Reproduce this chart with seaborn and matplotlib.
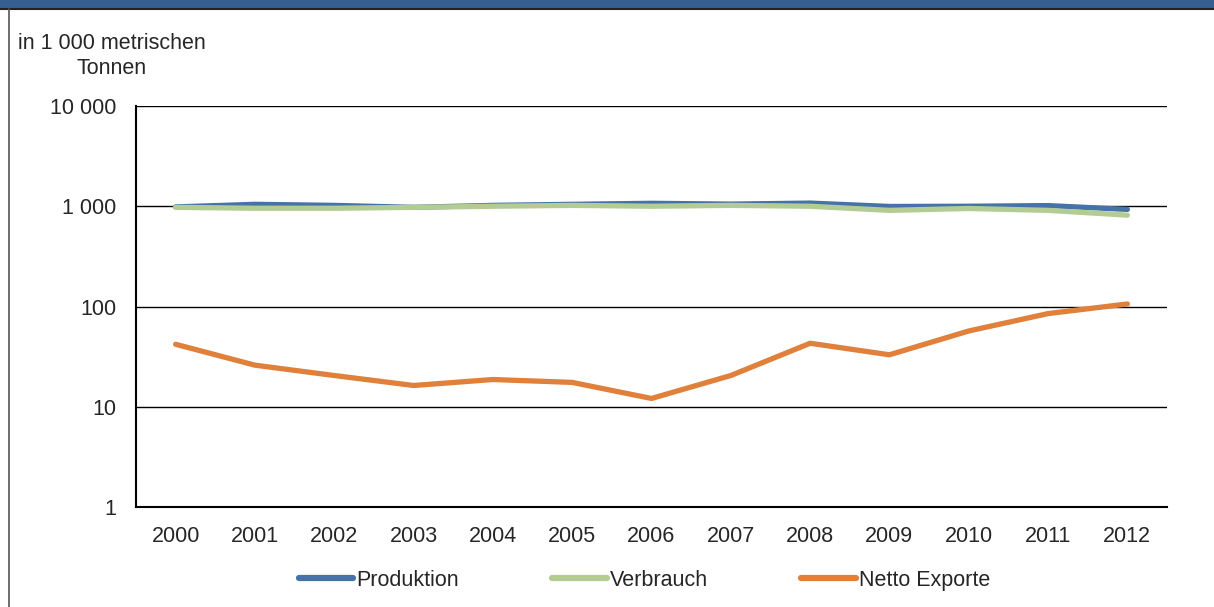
import numpy as np
import pandas as pd
import matplotlib
matplotlib.use("Agg")
import matplotlib.pyplot as plt
import seaborn as sns
from matplotlib.ticker import FuncFormatter, FixedLocator

# data (1 000 metric tonnes)
years = ["2000", "2001", "2002", "2003", "2004", "2005", "2006",
         "2007", "2008", "2009", "2010", "2011", "2012"]
produktion = [985, 1045, 1020, 975, 1020, 1045, 1070, 1050, 1075, 995, 1000, 1015, 930]
verbrauch = [975, 955, 955, 975, 1000, 1020, 1000, 1020, 1000, 910, 950, 910, 815]
netto_exporte = [42, 26, 20.5, 16.3, 18.7, 17.5, 12.1, 20.5, 43, 33, 57, 85, 106]

series_names = ["Produktion", "Verbrauch", "Netto Exporte"]
colors = ["#4572a7", "#b3cc93", "#e0803a"]

df = pd.DataFrame({
    "pos": list(range(len(years))) * 3,
    "value": produktion + verbrauch + netto_exporte,
    "series": np.repeat(series_names, len(years)),
})

sns.set_style("white")
plt.rcParams["font.family"] = ["Liberation Sans", "DejaVu Sans"]
fs = 15.5
plt.rcParams["font.size"] = fs

fig = plt.figure(figsize=(12.14, 6.07), dpi=100)
ax = fig.add_axes([0.112, 0.1647, 0.8493, 0.6607])

sns.lineplot(data=df, x="pos", y="value", hue="series", hue_order=series_names,
             palette=colors, linewidth=3.8, ax=ax, legend=True,
             solid_capstyle="round")

ax.set_yscale("log")
ax.set_ylim(1, 10000)
ax.set_xlim(-0.5, len(years) - 0.5)
ax.yaxis.set_major_locator(FixedLocator([1, 10, 100, 1000, 10000]))
ax.yaxis.set_minor_locator(FixedLocator([]))
ax.yaxis.set_major_formatter(FuncFormatter(lambda v, p: f"{int(v):,}".replace(",", " ")))
ax.grid(axis="y", color="black", linewidth=1)
ax.set_axisbelow(True)

# category labels at centres, ticks at boundaries
ax.set_xticks(np.arange(-0.5, len(years), 1.0))
ax.set_xticklabels([])
ax.set_xticks(np.arange(len(years)), minor=True)
ax.set_xticklabels(years, minor=True)
ax.tick_params(axis="x", which="major", direction="out", length=6, width=1.5, color="black")
ax.tick_params(axis="x", which="minor", length=0, pad=14, labelsize=fs)
ax.tick_params(axis="y", direction="out", length=6, width=1, color="black", labelsize=fs, pad=8)

for side in ["top", "right"]:
    ax.spines[side].set_visible(False)
for side in ["left", "bottom"]:
    ax.spines[side].set_color("black")
    ax.spines[side].set_linewidth(1.5)

ax.set_xlabel("")
ax.set_ylabel("")

leg = ax.legend(loc="upper center", bbox_to_anchor=(0.493, -0.108), ncol=3, frameon=False,
                handlelength=2.55, handletextpad=0.15, columnspacing=4.3, fontsize=fs)
for line in leg.get_lines():
    line.set_linewidth(4.5)
    line.set_solid_capstyle("round")

fig.text(0.092, 0.945, "in 1 000 metrischen\nTonnen", ha="center", va="top",
         multialignment="center", fontsize=fs, linespacing=1.2)

# header band and frame
fig.patches.append(plt.Rectangle((0, 1 - 8 / 607), 1, 8 / 607, transform=fig.transFigure,
                                 facecolor="#355e91", edgecolor="none"))
fig.add_artist(plt.Line2D([0, 1], [1 - 9 / 607, 1 - 9 / 607], transform=fig.transFigure,
                          color="#222222", linewidth=1.5))
fig.add_artist(plt.Line2D([9 / 1214, 9 / 1214], [0, 1 - 9 / 607], transform=fig.transFigure,
                          color="#555555", linewidth=1.2))

fig.savefig("out.png", dpi=100)
